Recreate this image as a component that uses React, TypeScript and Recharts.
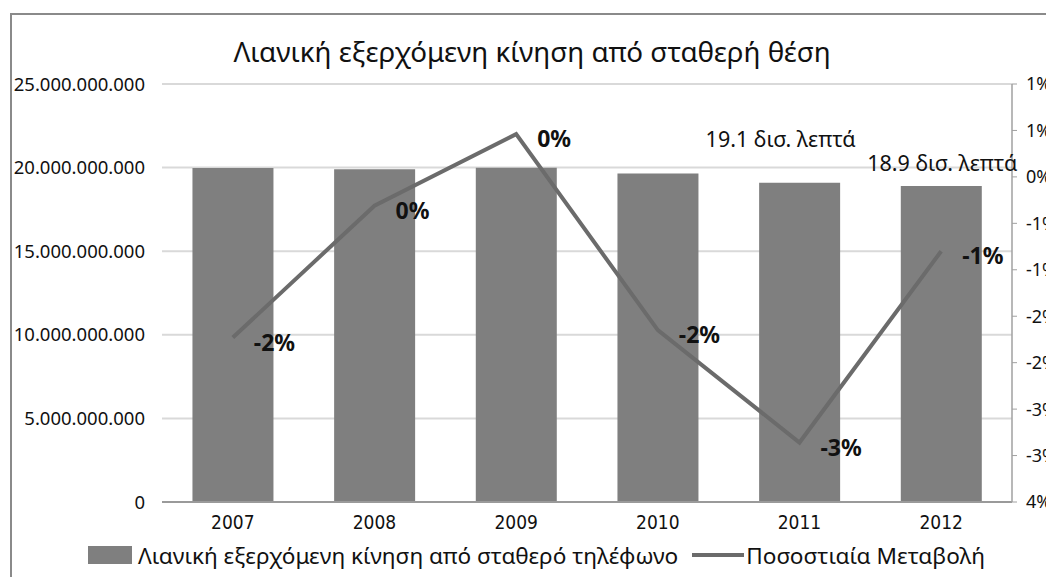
import React from 'react';
import { ComposedChart, Bar, Line, XAxis, YAxis, CartesianGrid, Legend, LabelList } from 'recharts';

const categories = ['2007', '2008', '2009', '2010', '2011', '2012'];
const trafficMinutes = [19.98e9, 19.9e9, 19.99e9, 19.65e9, 19.1e9, 18.9e9];
const percentChange = [-1.73, -0.31, 0.46, -1.65, -2.86, -0.8];
const leftTicks = [0, 5e9, 10e9, 15e9, 20e9, 25e9];
const rightTicks = [1, 0.5, 0, -0.5, -1, -1.5, -2, -2.5, -3, -3.5];
const rightTickLabels = ['1%', '1%', '0%', '-1%', '-1%', '-2%', '-2%', '-3%', '-3%', '4%'];
const barAnnotations = [null, null, null, null, '19.1 δισ. λεπτά', '18.9 δισ. λεπτά'];
const barSeriesName = 'Λιανική εξερχόμενη κίνηση από σταθερό τηλέφωνο';
const lineSeriesName = 'Ποσοστιαία Μεταβολή';
const chartTitle = 'Λιανική εξερχόμενη κίνηση από σταθερή θέση';

const annotationShift: Record<number, { dx: number; dy: number }> = {
  4: { dx: -19, dy: -44 },
  5: { dx: 1, dy: -23 },
};

const data = categories.map((year, i) => ({
  year,
  minutes: trafficMinutes[i],
  change: percentChange[i],
}));

const FONT = '"Noto Sans", "Open Sans", sans-serif';
const BAR_COLOR = '#7f7f7f';
const LINE_COLOR = '#6b6b6b';

const formatLeft = (v: number) =>
  Math.round(v).toString().replace(/\B(?=(\d{3})+(?!\d))/g, '.');

const formatRight = (v: number) => {
  const idx = rightTicks.findIndex((t) => Math.abs(t - v) < 1e-9);
  return idx >= 0 ? rightTickLabels[idx] : '';
};

const pctText = (v: number) => {
  const r = Math.round(v);
  return (r === 0 ? 0 : r) + '%';
};

const PctLabel = (props: any) => {
  const { x, y, value } = props;
  if (x == null || y == null) return null;
  return (
    <text
      x={x + 21}
      y={y + 4}
      fontFamily={FONT}
      fontSize={23}
      fontWeight="bold"
      fill="#111"
      dominantBaseline="central"
      textAnchor="start"
    >
      {pctText(Number(value))}
    </text>
  );
};

const BarAnnotation = (props: any) => {
  const { x, y, width, index } = props;
  const txt = barAnnotations[index];
  if (!txt) return null;
  const s = annotationShift[index] || { dx: 0, dy: -20 };
  return (
    <text
      x={x + width / 2 + s.dx}
      y={y + s.dy}
      fontFamily={FONT}
      fontSize={21.5}
      fill="#111"
      dominantBaseline="central"
      textAnchor="middle"
    >
      {txt}
    </text>
  );
};

const renderLegend = () => (
  <div
    style={{
      display: 'flex',
      alignItems: 'center',
      fontFamily: FONT,
      fontSize: 22.6,
      color: '#111',
      height: 30,
      whiteSpace: 'nowrap',
    }}
  >
    <div style={{ width: 44, height: 18, background: BAR_COLOR, marginLeft: 80, marginRight: 6 }} />
    <span>{barSeriesName}</span>
    <div style={{ width: 52, height: 4, background: LINE_COLOR, marginLeft: 14, marginRight: 2 }} />
    <span>{lineSeriesName}</span>
  </div>
);

export default function App() {
  return (
    <div style={{ position: 'relative', width: 1046, height: 569, overflow: 'hidden', background: '#fff' }}>
      <div
        style={{
          position: 'absolute',
          left: 2,
          top: 5,
          width: 2000,
          height: 2000,
          border: '2px solid #8a8a8a',
          boxSizing: 'border-box',
        }}
      />
      <div
        style={{
          position: 'absolute',
          left: 0,
          width: 1048,
          top: 25,
          textAlign: 'center',
          fontFamily: FONT,
          fontSize: 27.8,
          color: '#111',
          lineHeight: '36px',
        }}
      >
        {chartTitle}
      </div>
      <div style={{ position: 'absolute', left: 0, top: 0 }}>
        <ComposedChart
          width={1060}
          height={569}
          data={data}
          margin={{ top: 76, right: 6, bottom: 15, left: 4 }}
          barCategoryGap="21.5%"
        >
          <CartesianGrid yAxisId="left" vertical={false} stroke="#d9d9d9" strokeWidth={2} />
          <XAxis
            dataKey="year"
            tickLine={false}
            tickSize={0}
            tickMargin={14}
            height={30}
            axisLine={{ stroke: '#9a9a9a', strokeWidth: 2 }}
            tick={{ fontFamily: '"Liberation Sans Narrow", "DejaVu Sans Condensed", sans-serif', fontSize: 19, fill: '#111' }}
          />
          <YAxis
            yAxisId="left"
            orientation="left"
            width={150}
            domain={[0, 25e9]}
            ticks={leftTicks}
            tickFormatter={formatLeft}
            axisLine={false}
            tickLine={false}
            tickSize={0}
            tickMargin={17}
            tick={{ fontFamily: FONT, fontSize: 18.5, fill: '#111' }}
          />
          <YAxis
            yAxisId="right"
            orientation="right"
            width={50}
            domain={[-3.5, 1]}
            ticks={rightTicks}
            tickFormatter={formatRight}
            axisLine={{ stroke: '#a0a0a0', strokeWidth: 1.5 }}
            tickLine={{ stroke: '#a0a0a0' }}
            tickSize={5}
            tickMargin={9}
            tick={{ fontFamily: FONT, fontSize: 18, fill: '#111' }}
          />
          <Legend
            verticalAlign="bottom"
            align="left"
            height={30}
            wrapperStyle={{ left: 0, top: 532, width: 1046 }}
            content={renderLegend}
          />
          <Bar
            yAxisId="left"
            dataKey="minutes"
            name={barSeriesName}
            fill={BAR_COLOR}
            isAnimationActive={false}
          >
            <LabelList dataKey="minutes" content={BarAnnotation} />
          </Bar>
          <Line
            yAxisId="right"
            dataKey="change"
            name={lineSeriesName}
            stroke={LINE_COLOR}
            strokeWidth={4}
            dot={false}
            activeDot={false}
            type="linear"
            isAnimationActive={false}
          >
            <LabelList dataKey="change" content={PctLabel} />
          </Line>
        </ComposedChart>
      </div>
    </div>
  );
}
